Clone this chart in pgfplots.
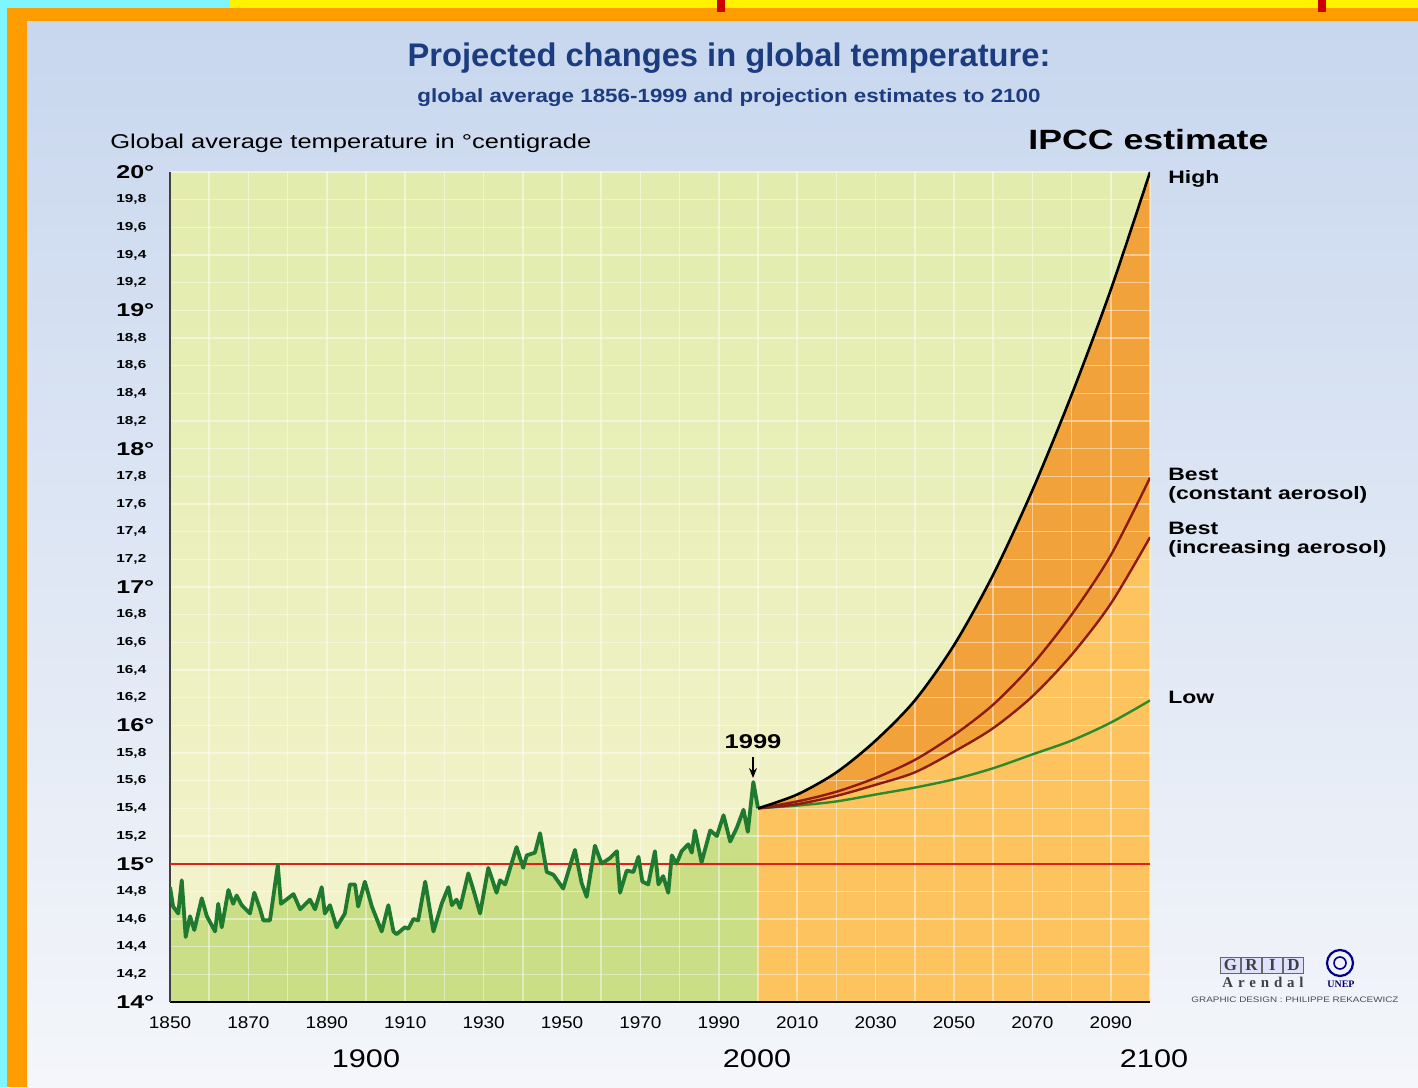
\documentclass[border=0pt]{standalone}
\usepackage{fontspec}
\setmainfont{Liberation Sans}
\newfontfamily\serif{Liberation Serif}
\usepackage{graphicx}
\usepackage{pgfplots}
\usepackage{pgfplotstable}
\pgfplotsset{compat=1.18}
\usetikzlibrary{arrows.meta}

\definecolor{framecyan}{HTML}{7FF5FF}
\definecolor{frameorange}{HTML}{FF9C00}
\definecolor{frameyellow}{HTML}{FFF200}
\definecolor{paneltop}{HTML}{C8D7EE}
\definecolor{panelbot}{HTML}{F4F6FA}
\definecolor{plottop}{HTML}{E2ECAC}
\definecolor{plotbot}{HTML}{F5F4CF}
\definecolor{histfill}{HTML}{C9DE85}
\definecolor{histline}{HTML}{1F7A30}
\definecolor{lightorange}{HTML}{FDC35F}
\definecolor{darkorange}{HTML}{F2A23A}
\definecolor{bestred}{HTML}{8E1B12}
\definecolor{lowgreen}{HTML}{2B8A2B}
\definecolor{refred}{HTML}{E0201C}
\definecolor{navy}{HTML}{1C3C80}

% the original lettering is set wide
\newcommand\Maj[1]{\scalebox{1.35}[1]{\fontsize{9.3}{10}\selectfont\bfseries #1}}
\newcommand\Min[1]{\scalebox{1.33}[1]{\fontsize{5.8}{6}\selectfont\bfseries #1}}
\newcommand\Xl[1]{\scalebox{1.12}[1]{\fontsize{8.5}{10}\selectfont #1}}
\newcommand\Wide[2]{\scalebox{1.28}[1]{\fontsize{#1}{#1}\selectfont\bfseries #2}}

\pgfplotstableread{
year temp
1850.0 14.83
1850.8 14.69
1852.1 14.64
1853.0 14.88
1854.0 14.47
1855.1 14.62
1856.2 14.52
1858.1 14.75
1859.4 14.62
1861.5 14.51
1862.3 14.71
1863.2 14.54
1864.9 14.81
1866.1 14.71
1867.0 14.77
1868.3 14.70
1870.4 14.64
1871.5 14.79
1873.0 14.67
1873.8 14.59
1875.5 14.59
1877.5 14.99
1878.3 14.71
1881.5 14.78
1883.2 14.67
1885.7 14.74
1887.0 14.67
1888.7 14.83
1889.5 14.64
1890.8 14.70
1892.5 14.54
1894.6 14.64
1895.9 14.85
1897.2 14.85
1898.0 14.69
1899.7 14.87
1901.5 14.69
1904.0 14.51
1905.7 14.70
1907.0 14.51
1907.8 14.49
1909.9 14.54
1910.8 14.53
1912.1 14.60
1913.3 14.59
1915.1 14.87
1917.2 14.51
1919.3 14.71
1921.0 14.83
1921.9 14.70
1923.1 14.74
1924.0 14.68
1926.1 14.93
1927.4 14.81
1929.1 14.64
1931.2 14.97
1933.3 14.79
1934.2 14.88
1935.5 14.85
1938.4 15.12
1940.1 14.97
1941.0 15.06
1943.1 15.08
1944.4 15.22
1946.1 14.94
1947.8 14.92
1950.3 14.82
1952.0 14.98
1953.3 15.10
1955.0 14.86
1956.3 14.76
1958.4 15.13
1960.1 15.00
1962.2 15.04
1964.0 15.09
1964.8 14.79
1966.5 14.95
1968.2 14.94
1969.5 15.05
1970.5 14.87
1972.0 14.85
1973.7 15.09
1974.6 14.85
1975.8 14.91
1977.1 14.79
1978.0 15.06
1979.2 15.00
1980.5 15.09
1982.2 15.14
1983.1 15.08
1983.9 15.24
1985.6 15.01
1987.8 15.24
1989.5 15.20
1991.2 15.35
1992.9 15.16
1994.6 15.26
1996.3 15.39
1997.4 15.23
1998.8 15.59
2000.0 15.40
}\hist

% IPCC projections
\pgfplotstableread{
year high bestc besti low
2000 15.40 15.40 15.40 15.40
2010 15.50 15.45 15.43 15.42
2020 15.66 15.52 15.49 15.45
2030 15.89 15.62 15.57 15.50
2040 16.18 15.75 15.66 15.55
2050 16.58 15.93 15.81 15.61
2060 17.09 16.15 15.98 15.69
2070 17.70 16.44 16.21 15.79
2080 18.39 16.80 16.51 15.89
2090 19.15 17.23 16.88 16.02
2100 20.00 17.79 17.36 16.18
}\proj

\pgfplotstableread{
year temp
1850 15
2100 15
}\ref

\begin{document}
\begin{tikzpicture}[x=0.5bp,y=0.5bp]
% frame and panel
\fill[framecyan] (0,0) rectangle (1418,1087);
\fill[frameorange] (7,0) rectangle (1418,1079);
\fill[frameyellow] (230,1079) rectangle (1418,1087);
\fill[red!80!black] (717,1075) rectangle (725,1087);
\fill[red!80!black] (1318,1075) rectangle (1326,1087);
\shade[top color=paneltop, bottom color=panelbot] (27,0) rectangle (1418,1065);
% plot area background
\shade[top color=plottop, bottom color=plotbot] (170,85) rectangle (1150,915);

% fills
\begin{axis}[at={(85bp,42.5bp)}, anchor=south west, width=490bp, height=415bp,
  scale only axis, xmin=1850, xmax=2100, ymin=14, ymax=20,
  axis lines=none, ticks=none]
  \addplot[fill=histfill, draw=none] table[x=year, y=temp] {\hist} \closedcycle;
  \addplot[fill=darkorange, draw=none, smooth] table[x=year, y=high] {\proj} \closedcycle;
  \addplot[fill=lightorange, draw=none, smooth] table[x=year, y=besti] {\proj} \closedcycle;
\end{axis}

% grid, axes and curves
\begin{axis}[at={(85bp,42.5bp)}, anchor=south west, width=490bp, height=415bp,
  scale only axis, xmin=1850, xmax=2100, ymin=14, ymax=20,
  axis lines=left, axis line style={-},
  x axis line style={black, line width=1.3bp},
  y axis line style={black!75, line width=1bp},
  major tick length=0, minor tick length=0,
  grid=both, grid style={white, opacity=0.45, line width=0.8bp},
  xtick={1850,1870,1890,1910,1930,1950,1970,1990,2010,2030,2050,2070,2090},
  minor xtick={1860,1880,1900,1920,1940,1960,1980,2000,2020,2040,2060,2080,2100},
  xticklabels={\Xl{1850},\Xl{1870},\Xl{1890},\Xl{1910},\Xl{1930},\Xl{1950},\Xl{1970},
    \Xl{1990},\Xl{2010},\Xl{2030},\Xl{2050},\Xl{2070},\Xl{2090}},
  xticklabel style={yshift=-4bp},
  ytick={14,14.2,14.4,14.6,14.8,15,15.2,15.4,15.6,15.8,16,16.2,16.4,16.6,16.8,17,17.2,17.4,17.6,17.8,18,18.2,18.4,18.6,18.8,19,19.2,19.4,19.6,19.8,20},
  yticklabels={\Maj{14°},\Min{14,2},\Min{14,4},\Min{14,6},\Min{14,8},
    \Maj{15°},\Min{15,2},\Min{15,4},\Min{15,6},\Min{15,8},
    \Maj{16°},\Min{16,2},\Min{16,4},\Min{16,6},\Min{16,8},
    \Maj{17°},\Min{17,2},\Min{17,4},\Min{17,6},\Min{17,8},
    \Maj{18°},\Min{18,2},\Min{18,4},\Min{18,6},\Min{18,8},
    \Maj{19°},\Min{19,2},\Min{19,4},\Min{19,6},\Min{19,8},\Maj{20°}},
  yticklabel style={anchor=west, inner sep=0pt, xshift=-27bp},
]
  \addplot[draw=refred, line width=1.1bp, opacity=1] table[x=year, y=temp] {\ref};
  \addplot[histline, line width=1.9bp, line join=round] table[x=year, y=temp] {\hist};
  \addplot[lowgreen, line width=1.2bp, smooth] table[x=year, y=low] {\proj};
  \addplot[bestred, line width=1.2bp, smooth] table[x=year, y=besti] {\proj};
  \addplot[bestred, line width=1.2bp, smooth] table[x=year, y=bestc] {\proj};
  \addplot[black, line width=1.3bp, smooth] table[x=year, y=high] {\proj};
\end{axis}

% titles and labels
\node[anchor=base, text=navy, inner sep=0pt] at (729,1020)
  {\fontsize{16.4}{18}\selectfont\bfseries Projected changes in global temperature:};
\node[anchor=base, text=navy, inner sep=0pt] at (729,984)
  {\scalebox{1.17}[1]{\fontsize{9.6}{11}\selectfont\bfseries global average 1856-1999 and projection estimates to 2100}};
\node[anchor=base west, inner sep=0pt] at (110,938)
  {\scalebox{1.28}[1]{\fontsize{10}{12}\selectfont Global average temperature in °centigrade}};
\node[anchor=base west, inner sep=0pt] at (1028,937) {\Wide{14}{IPCC estimate}};
\begin{scope}[every node/.style={anchor=base west, inner sep=0pt}]
\node at (1168,903) {\Wide{9}{High}};
\node at (1168,607) {\Wide{9}{Best}};
\node at (1168,588) {\Wide{9}{(constant aerosol)}};
\node at (1168,553) {\Wide{9}{Best}};
\node at (1168,534) {\Wide{9}{(increasing aerosol)}};
\node at (1168,384) {\Wide{9}{Low}};
\end{scope}
\node[anchor=base, inner sep=0pt] at (753,339) {\Wide{10}{1999}};
\draw[-{Stealth[length=5bp,width=4bp]}, line width=0.7bp] (753,330) -- (753,309);
\begin{scope}[every node/.style={anchor=base, inner sep=0pt}]
\node at (366,20) {\scalebox{1.2}[1]{\fontsize{12.8}{14}\selectfont 1900}};
\node at (757,20) {\scalebox{1.2}[1]{\fontsize{12.8}{14}\selectfont 2000}};
\node at (1154,20) {\scalebox{1.2}[1]{\fontsize{12.8}{14}\selectfont 2100}};
\end{scope}

% GRID-Arendal / UNEP credit
\foreach \l [count=\i] in {G,R,I,D} {
  \node[draw=black!60, fill=blue!12, inner sep=0pt, minimum width=10bp, minimum height=8bp,
    font=\fontsize{8.5}{9}\selectfont\bfseries\serif, text=black!75]
    at (1209.5+\i*21,122) {\l};
}
\node[font=\fontsize{7.5}{8}\selectfont\bfseries\serif, text=black!75] at (1263,105)
  {A\hspace{2.4bp}r\hspace{2.4bp}e\hspace{2.4bp}n\hspace{2.4bp}d\hspace{2.4bp}a\hspace{2.4bp}l};
\draw[blue!55!black, line width=1.1bp] (1340,124) circle (13);
\draw[blue!55!black, line width=0.8bp] (1340,124) circle (6);
\node[font=\fontsize{5}{6}\selectfont\bfseries\serif, text=blue!40!black] at (1341,103) {UNEP};
\node[font=\fontsize{4}{5}\selectfont, text=black!70] at (1295,87)
  {\scalebox{1.24}[1]{GRAPHIC DESIGN : PHILIPPE REKACEWICZ}};
\pgfresetboundingbox
\path[use as bounding box] (0,0) rectangle (1418,1087);
\end{tikzpicture}
\end{document}
